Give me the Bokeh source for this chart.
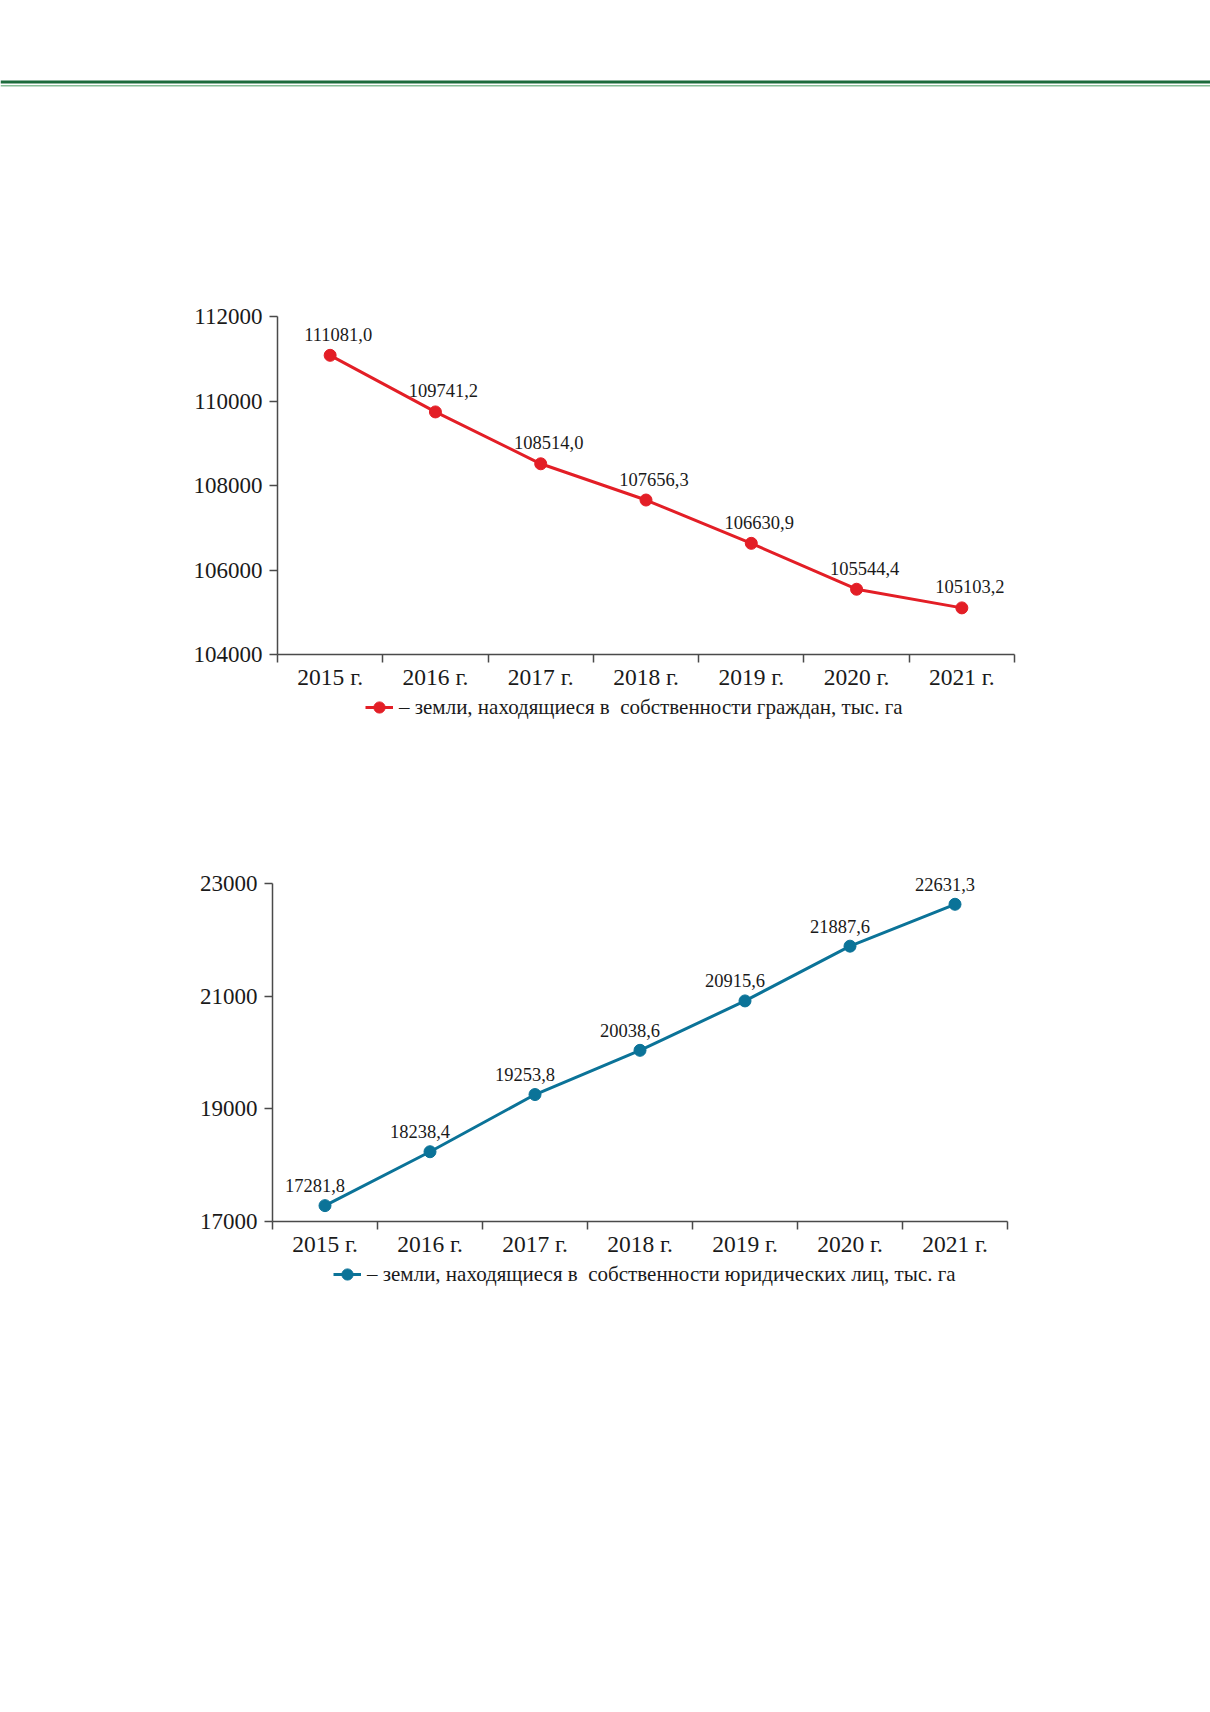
from bokeh.plotting import figure
from bokeh.models import (Range1d, LinearAxis, FixedTicker, BasicTickFormatter, LabelSet,
                          Span, Legend, LegendItem, ColumnDataSource)
from bokeh.embed import file_html
from bokeh.resources import INLINE

# ---------------- data ----------------
years = ["2015 г.", "2016 г.", "2017 г.", "2018 г.", "2019 г.", "2020 г.", "2021 г."]
citizens = [111081.0, 109741.2, 108514.0, 107656.3, 106630.9, 105544.4, 105103.2]
legal = [17281.8, 18238.4, 19253.8, 20038.6, 20915.6, 21887.6, 22631.3]
citizens_ticks = [104000, 106000, 108000, 110000, 112000]
legal_ticks = [17000, 19000, 21000, 23000]
citizens_label = "– земли, находящиеся в  собственности граждан, тыс. га"
legal_label = "– земли, находящиеся в  собственности юридических лиц, тыс. га"

# ---------------- style ----------------
FONT = "Liberation Serif"
PAGE_W = 1210
AX = "#4a4a4a"
TXT = "#1a1a1a"
RED = "#e31e26"
TEAL = "#0b7398"
PAD = 22          # px of free room above the top tick for value labels


def fmt(v):
    return f"{v:.1f}".replace(".", ",")


def base_fig(width, height, **kw):
    p = figure(width=width, height=height, output_backend="svg", toolbar_location=None,
               x_axis_location=None, y_axis_location=None, **kw)
    p.grid.visible = False
    p.outline_line_color = None
    return p


def header():
    p = base_fig(PAGE_W, 200, x_range=Range1d(0, 1), y_range=Range1d(200, 0), min_border=0)
    p.add_layout(Span(location=81.5, dimension="width", line_color="#1c6b3c", line_width=3))
    p.add_layout(Span(location=85.3, dimension="width", line_color="#86bd96", line_width=1.5))
    return p


def chart(vals, ticks, color, border_left, border_top, frame_w, frame_h, border_bottom, dx, dy):
    n = len(years)
    pos = list(range(1, n + 1))          # category slots on the x scale
    src = ColumnDataSource(dict(x=pos, year=years, val=vals, txt=[fmt(v) for v in vals]))
    lo, hi = min(ticks), max(ticks)
    top = hi + (hi - lo) * PAD / frame_h
    height = border_top - PAD + frame_h + PAD + border_bottom
    p = base_fig(PAGE_W, height,
                 x_range=Range1d(0.5, n + 0.5), y_range=Range1d(lo, top),
                 min_border_left=border_left, min_border_top=border_top - PAD,
                 min_border_right=PAGE_W - border_left - frame_w,
                 min_border_bottom=border_bottom)

    yax = LinearAxis(ticker=FixedTicker(ticks=ticks), bounds=(lo, hi),
                     formatter=BasicTickFormatter(use_scientific=False),
                     major_tick_out=8, major_tick_in=0,
                     minor_tick_line_color=None, axis_line_color=AX, axis_line_width=1.5,
                     major_tick_line_color=AX, major_tick_line_width=1.5,
                     major_label_text_font=FONT, major_label_text_font_size="23px",
                     major_label_text_color=TXT, major_label_standoff=7)
    p.add_layout(yax, "left")

    xax = LinearAxis(ticker=FixedTicker(ticks=pos, minor_ticks=[k + 0.5 for k in range(n + 1)]),
                     major_label_overrides={k: y for k, y in zip(pos, years)},
                     major_tick_line_color=None, major_tick_out=0, major_tick_in=0,
                     minor_tick_out=8, minor_tick_in=0, minor_tick_line_color=AX,
                     minor_tick_line_width=1.5,
                     axis_line_color=AX, axis_line_width=1.5,
                     major_label_text_font=FONT, major_label_text_font_size="23.5px",
                     major_label_text_color=TXT, major_label_standoff=1)
    p.add_layout(xax, "below")

    p.line("x", "val", source=src, line_color=color, line_width=3)
    p.scatter("x", "val", source=src, size=12, fill_color=color, line_color=color)
    p.add_layout(LabelSet(x="x", y="val", text="txt", source=src, text_font=FONT,
                          text_font_size="18.5px", text_color=TXT, text_align="center",
                          text_baseline="middle", x_offset=dx, y_offset=dy))
    return p


def legend_fig(vals, label, color, height, legend_x):
    p = base_fig(PAGE_W, height, x_range=Range1d(0, 1), y_range=Range1d(0, 1), min_border=0)
    src = ColumnDataSource(dict(x=list(range(1, len(years) + 1)), y=vals))
    # same series as in the chart, kept hidden: only its legend swatch is shown here
    ln = p.line("x", "y", source=src, line_color=color, line_width=3, visible=False)
    sc = p.scatter("x", "y", source=src, size=12, fill_color=color, line_color=color,
                   visible=False)
    leg = Legend(items=[LegendItem(label=label, renderers=[ln, sc])], orientation="horizontal",
                 location=(legend_x, height - 30), border_line_color=None,
                 background_fill_alpha=0, inactive_fill_alpha=0,
                 label_text_font=FONT, label_text_font_size="21px", label_text_color=TXT,
                 glyph_width=28, glyph_height=30, label_standoff=6, padding=0, margin=0,
                 spacing=0)
    p.add_layout(leg)
    return p


p0 = header()                                                   # page y 0..200
p1 = chart(citizens, citizens_ticks, RED, 277, 116, 737, 338, 38, 8, 21)   # 200..692
l1 = legend_fig(citizens, citizens_label, RED, 68, 365)         # 692..760
p2 = chart(legal, legal_ticks, TEAL, 272, 123, 735, 338, 38, -10, 20)      # 760..1259
l2 = legend_fig(legal, legal_label, TEAL, 60, 333)              # 1259..1319

open("out.html", "w").write(file_html([p0, p1, l1, p2, l2], INLINE))
